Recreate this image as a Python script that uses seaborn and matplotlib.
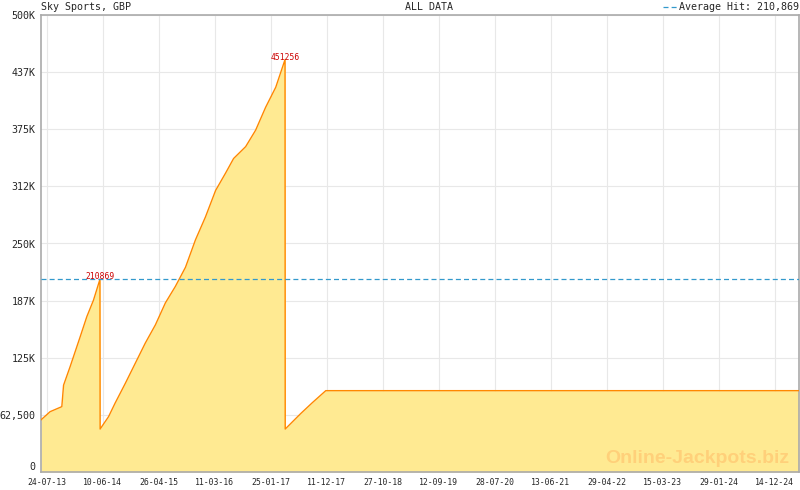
"""
Sky Sports (GBP) jackpot history, all data, with the average hit line.
"""

import matplotlib

matplotlib.use("Agg")

import matplotlib.dates as mdates
import matplotlib.pyplot as plt
import numpy as np
import pandas as pd
import seaborn as sns
from matplotlib.lines import Line2D

# jackpot values
dates = [
    "2013-06-21", "2013-08-12", "2013-10-18", "2013-10-28", "2013-12-04",
    "2014-01-31", "2014-03-10", "2014-04-17", "2014-05-24", "2014-05-25",
    "2014-07-12", "2014-08-19", "2014-10-16", "2014-12-12", "2015-02-07",
    "2015-04-06", "2015-06-02", "2015-07-29", "2015-09-25", "2015-11-21",
    "2016-01-17", "2016-03-15", "2016-05-11", "2016-06-26", "2016-09-03",
    "2016-10-30", "2016-12-26", "2017-02-22", "2017-04-16", "2017-04-17",
    "2017-07-15", "2017-09-20", "2017-12-05", "2025-05-02",
]
values = [
    57000, 66000, 71500, 95000, 115000,
    148000, 170000, 188000, 210869, 47000,
    60500, 75500, 97000, 119000, 141000,
    161000, 185000, 203000, 224000, 254000,
    279000, 308000, 327000, 343000, 356000,
    374000, 399000, 421000, 451256, 47000,
    64000, 76000, 89000, 89000,
]

average_hit = 210869
peaks = [("2014-05-24", 210869), ("2017-04-16", 451256)]

x_ticks = [
    "2013-07-24", "2014-06-10", "2015-04-26", "2016-03-11", "2017-01-25",
    "2017-12-11", "2018-10-27", "2019-09-12", "2020-07-28", "2021-06-13",
    "2022-04-29", "2023-03-15", "2024-01-29", "2024-12-14",
]
y_ticks = [0, 62500, 125000, 187500, 250000, 312500, 375000, 437500, 500000]
y_labels = ["0", "62,500", "125K", "187K", "250K", "312K", "375K", "437K", "500K"]

FILL = "#FFEA92"
LINE = "#FF8800"
GRID = "#E8E8E8"
FRAME = "#AAAAAA"
MONO = "DejaVu Sans Mono"

df = pd.DataFrame({"date": pd.to_datetime(dates), "value": values})

sns.set_style("white")
plt.rcParams["font.family"] = ["DejaVu Sans Mono", "DejaVu Sans"]

fig = plt.figure(figsize=(8, 4.9), dpi=100)
ax = fig.add_axes([41 / 800, 18 / 490, 758 / 800, 457 / 490])

ax.fill_between(df["date"], df["value"], 0, color=FILL, lw=0, zorder=1)
sns.lineplot(data=df, x="date", y="value", ax=ax, color=LINE, lw=1.0, zorder=3)

ax.axhline(average_hit, color="#3399CC", lw=0.9, ls=(0, (4, 2.5)), zorder=4)

for d, v in peaks:
    ax.annotate(str(v), (pd.Timestamp(d), v), xytext=(0, -1.5),
                textcoords="offset points", ha="center", va="bottom",
                color="#CC0000", fontsize=5.8, family=MONO, zorder=5)

# axes and ticks
xt = pd.to_datetime(x_ticks)
ax.set_xlim(pd.Timestamp("2013-06-21"), pd.Timestamp("2025-05-02"))
ax.set_ylim(0, 500000)
ax.set_xticks(xt)
ax.set_xticklabels([d.strftime("%d-%m-%y") for d in xt], fontsize=5.9)
ax.set_yticks(y_ticks)
ax.set_yticklabels(y_labels, fontsize=7.2)

xn = mdates.date2num(xt)
step = (xn[-1] - xn[0]) / (len(xn) - 1) / 7
minor = np.arange(xn[0], mdates.date2num(pd.Timestamp("2025-05-02")), step)
ax.set_xticks(minor, minor=True)

ax.tick_params(axis="x", which="major", direction="in", length=3,
               width=0.8, color=FRAME, pad=4.5)
ax.tick_params(axis="x", which="minor", direction="in", length=2,
               width=0.8, color=FRAME)
ax.tick_params(axis="y", length=0, pad=4)
for lbl in ax.get_yticklabels()[:1]:
    lbl.set_verticalalignment("bottom")

ax.grid(True, which="major", color=GRID, lw=0.8, zorder=0)
ax.set_axisbelow(True)
for s in ax.spines.values():
    s.set_color(FRAME)
    s.set_linewidth(1.2)
ax.set_xlabel("")
ax.set_ylabel("")

# watermark
ax.text(0.987, 0.03, "Online-Jackpots.biz", transform=ax.transAxes,
        ha="right", va="center", fontsize=14, fontweight="bold",
        family="Liberation Sans", color="#FFD07A", zorder=2)

# header texts
top = 1 - 7 / 490
fig.text(41 / 800, top, "Sky Sports, GBP", ha="left", va="center", fontsize=7.2)
fig.text(429 / 800, top, "ALL DATA", ha="center", va="center", fontsize=7.2)
fig.text(799 / 800, top, "Average Hit: 210,869", ha="right", va="center",
         fontsize=7.2)
fig.add_artist(Line2D([663 / 800, 678 / 800], [top, top], color="#3399CC",
                      lw=0.9, ls=(0, (4, 2.5)), transform=fig.transFigure))

fig.savefig("out.png", dpi=100)
